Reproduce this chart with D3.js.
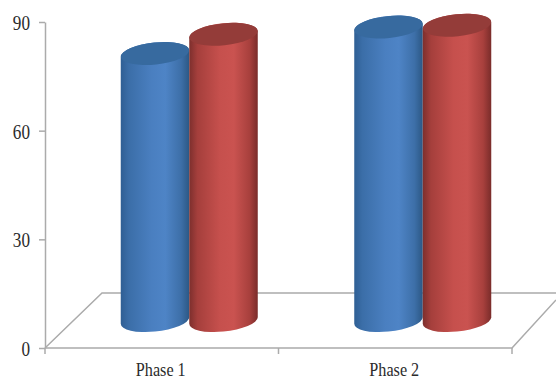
<!DOCTYPE html>
<html>
<head>
<meta charset="utf-8">
<script src="https://cdn.jsdelivr.net/npm/d3@7/dist/d3.min.js"></script>
<style>
  html, body { margin: 0; padding: 0; background: #fff; }
  svg { display: block; }
  text { font-family: "Liberation Serif", serif; fill: #2b2b2b; }
</style>
</head>
<body>
<svg id="chart" width="556" height="380"></svg>
<script>
const phases = ["Phase 1", "Phase 2"];
const seriesNames = ["Series A", "Series B"];
const seriesA = [73.7, 81];
const seriesB = [79, 81.5];
const yTicks = [0, 30, 60, 90];

const svg = d3.select("#chart");
const plotLeft = 45, plotRight = 512, plotTop = 22, plotBottom = 348;

// Oblique projection of the chart floor
const depthX = 57, depthY = 55;
const midX = depthX / 2 - 1, midY = depthY / 2;

const x = d3.scaleBand().domain(phases).range([plotLeft, plotRight]);
const y = d3.scaleLinear().domain([0, 90]).range([plotBottom, plotTop]);
const inner = d3.scaleBand().domain(seriesNames).range([-68.5, 68.5]);

const defs = svg.append("defs");
function addGradient(id, stops) {
  const g = defs.append("linearGradient").attr("id", id)
    .attr("x1", 0).attr("x2", 1).attr("y1", 0).attr("y2", 0);
  stops.forEach(([o, c]) => g.append("stop").attr("offset", o).attr("stop-color", c));
}
addGradient("blueBody", [[0, "#2f5f94"], [0.12, "#3b6ea8"], [0.45, "#4a7fc0"], [0.65, "#4e84c6"], [0.88, "#3d6fa8"], [1, "#2c5885"]]);
addGradient("redBody", [[0, "#7d2f2d"], [0.12, "#a53f3c"], [0.45, "#c6504d"], [0.65, "#ca5350"], [0.88, "#a8403d"], [1, "#7a2c2a"]]);

const axisColor = "#ababab";

// Floor outline
const floor = svg.append("g").attr("fill", "none").attr("stroke", axisColor).attr("stroke-width", 1.5);
const y0 = y(0);
floor.append("path").attr("d",
  d3.line()([[plotLeft, y0], [plotLeft + depthX, y0 - depthY], [556, y0 - depthY]]));
floor.append("path").attr("d",
  d3.line()([[plotLeft, y0], [plotRight, y0], [556, y0 - 48]]));
floor.selectAll("line.cat").data([plotLeft, x(phases[1]), plotRight]).join("line")
  .attr("class", "cat")
  .attr("x1", d => d).attr("x2", d => d)
  .attr("y1", y0).attr("y2", y0 + 6);

// Value axis
const axis = svg.append("g")
  .attr("transform", `translate(${plotLeft},0)`)
  .call(d3.axisLeft(y).tickValues(yTicks).tickSize(6).tickSizeOuter(0).tickPadding(9));
axis.select(".domain").attr("stroke", axisColor).attr("stroke-width", 1.5);
axis.selectAll(".tick line").attr("stroke", axisColor).attr("stroke-width", 1.5);
axis.attr("font-family", null);
axis.selectAll(".tick text")
  .attr("x", 0).attr("dy", "0.34em")
  .attr("transform", "translate(-15,0) scale(0.78,1)")
  .style("font-size", "22px");

// Category labels, slightly condensed
svg.append("g").selectAll("text").data(phases).join("text")
  .attr("transform", d => `translate(${x(d) + x.bandwidth() / 2 - 1},376) scale(0.9,1)`)
  .attr("text-anchor", "middle")
  .style("font-size", "18px")
  .text(d => d);

// Cylinders: side wall plus tilted elliptical cap
const ry = 11, tilt = 6;
function bodyPath(cx, yTop, yBase, rx) {
  const dy = rx * Math.sin(tilt * Math.PI / 180) * 0.9;
  return `M${cx - rx},${yTop + dy}` +
    `L${cx - rx},${yBase + dy}` +
    `A${rx},${ry} ${-tilt} 0 0 ${cx + rx},${yBase - dy}` +
    `L${cx + rx},${yTop - dy}` +
    `A${rx},${ry} ${-tilt} 0 0 ${cx - rx},${yTop + dy}Z`;
}

const series = [
  { name: seriesNames[0], values: seriesA, body: "url(#blueBody)", cap: "#376a9f" },
  { name: seriesNames[1], values: seriesB, body: "url(#redBody)", cap: "#943c39" }
];

const marks = svg.append("g");
phases.forEach((p, i) => {
  series.forEach(s => {
    const rx = inner.bandwidth() / 2;
    const cx = x(p) + x.bandwidth() / 2 + inner(s.name) + rx + midX;
    const yTop = y(s.values[i]) - midY;
    const yBase = y(0) - midY;
    const g = marks.append("g");
    g.append("path").attr("d", bodyPath(cx, yTop, yBase, rx)).attr("fill", s.body);
    g.append("ellipse")
      .attr("rx", rx).attr("ry", ry)
      .attr("transform", `translate(${cx},${yTop}) rotate(${-tilt})`)
      .attr("fill", s.cap);
  });
});
</script>
</body>
</html>
